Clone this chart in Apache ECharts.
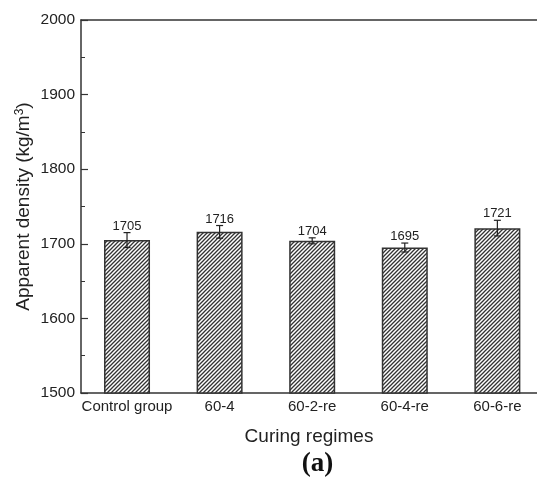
<!DOCTYPE html>
<html>
<head>
<meta charset="utf-8">
<script src="https://cdn.jsdelivr.net/npm/echarts@6/dist/echarts.min.js"></script>
<style>
html,body{margin:0;padding:0;background:#fff;}
#chart{width:537px;height:481px;}
</style>
</head>
<body>
<div id="chart"></div>
<script>
var categories = ['Control group', '60-4', '60-2-re', '60-4-re', '60-6-re'];
var densities = [1705, 1716, 1704, 1695, 1721];
var errors = [10, 8.5, 4, 6, 10.5];
var yTicks = [1500, 1600, 1700, 1800, 1900, 2000];

function makeHatch() {
  var c = document.createElement('canvas');
  var s = 4;
  c.width = s; c.height = s;
  var ctx = c.getContext('2d');
  ctx.fillStyle = '#ffffff';
  ctx.fillRect(0, 0, s, s);
  ctx.strokeStyle = '#333333';
  ctx.lineWidth = 1.3;
  ctx.beginPath();
  ctx.moveTo(-1, s + 1); ctx.lineTo(s + 1, -1);
  ctx.moveTo(-1, 1); ctx.lineTo(1, -1);
  ctx.moveTo(s - 1, s + 1); ctx.lineTo(s + 1, s - 1);
  ctx.stroke();
  return c;
}

var chart = echarts.init(document.getElementById('chart'), null, {renderer: 'canvas'});
var catIdx = categories.map(function (c, i) { return i; });
var barData = densities.map(function (v, i) { return [i, v]; });
var errData = densities.map(function (v, i) { return [i, v, errors[i]]; });
var xMin = -0.497, xMax = 4.428;

var option = {
  animation: false,
  backgroundColor: '#ffffff',
  grid: {left: 81, top: 20, right: 0, bottom: 88, show: false},
  xAxis: [
    {
      type: 'value',
      min: xMin,
      max: xMax,
      axisLine: {show: true, onZero: false, lineStyle: {color: '#333', width: 1.5}},
      axisTick: {show: false},
      splitLine: {show: false},
      axisLabel: {color: '#222', fontSize: 15, fontFamily: 'Liberation Sans', margin: 6,
        customValues: catIdx,
        formatter: function (v) { return categories[Math.round(v)] || ''; }},
      name: 'Curing regimes',
      nameLocation: 'middle',
      nameGap: 34,
      nameMoveOverlap: false,
      nameTextStyle: {color: '#222', fontSize: 19, fontFamily: 'Liberation Sans'}
    },
    {
      type: 'value',
      position: 'top',
      min: xMin,
      max: xMax,
      axisLine: {show: true, onZero: false, lineStyle: {color: '#333', width: 1.5}},
      axisTick: {show: false},
      splitLine: {show: false},
      axisLabel: {show: false}
    }
  ],
  yAxis: [
    {
      type: 'value',
      min: yTicks[0],
      max: yTicks[yTicks.length - 1],
      interval: 100,
      axisLine: {show: true, onZero: false, lineStyle: {color: '#333', width: 1.5}},
      axisTick: {show: true, inside: true, length: 7, lineStyle: {color: '#333', width: 1.2}},
      splitLine: {show: false},
      axisLabel: {color: '#222', fontSize: 15.5, fontFamily: 'Liberation Sans', margin: 6,
        formatter: function (v) { return String(v); }},
      name: 'Apparent density (kg/m{sup|3})',
      nameLocation: 'middle',
      nameGap: 47,
      nameMoveOverlap: false,
      nameTextStyle: {color: '#222', fontSize: 19, fontFamily: 'Liberation Sans',
        rich: {sup: {fontSize: 12, verticalAlign: 'top', padding: [0, 0, 8, 0], color: '#222', fontFamily: 'Liberation Sans'}}}
    },
    {
      type: 'value',
      position: 'left',
      offset: 0,
      min: yTicks[0],
      max: yTicks[yTicks.length - 1],
      interval: 50,
      axisLine: {show: false, onZero: false},
      axisTick: {show: true, inside: true, length: 4, lineStyle: {color: '#333', width: 1}},
      splitLine: {show: false},
      axisLabel: {show: false}
    }
  ],
  series: [
    {
      type: 'bar',
      data: barData,
      xAxisIndex: 0,
      yAxisIndex: 0,
      barWidth: 46,
      itemStyle: {
        color: {image: makeHatch(), repeat: 'repeat'},
        borderColor: '#333',
        borderWidth: 1.5
      },
      z: 2
    },
    {
      type: 'custom',
      data: errData,
      xAxisIndex: 0,
      yAxisIndex: 0,
      z: 5,
      renderItem: function (params, api) {
        var x = api.value(0), v = api.value(1), e = api.value(2);
        var top = api.coord([x, v + e]);
        var bot = api.coord([x, v - e]);
        var cx = top[0];
        var hw = 3.5;
        var st = {stroke: '#222', lineWidth: 1.2};
        return {
          type: 'group',
          children: [
            {type: 'line', shape: {x1: cx, y1: top[1], x2: cx, y2: bot[1]}, style: st},
            {type: 'line', shape: {x1: cx - hw, y1: top[1], x2: cx + hw, y2: top[1]}, style: st},
            {type: 'line', shape: {x1: cx - hw, y1: bot[1], x2: cx + hw, y2: bot[1]}, style: st},
            {type: 'text', x: cx, y: top[1],
              style: {text: String(v), fill: '#222', font: '13px "Liberation Sans"', align: 'center', verticalAlign: 'bottom'}}
          ]
        };
      }
    }
  ],
  graphic: [
    {type: 'text', x: 317.5, y: 464,
      style: {text: '(a)', fill: '#111', font: 'bold 27px "Liberation Serif"', align: 'center', verticalAlign: 'middle'}}
  ]
};
chart.setOption(option);
</script>
</body>
</html>
